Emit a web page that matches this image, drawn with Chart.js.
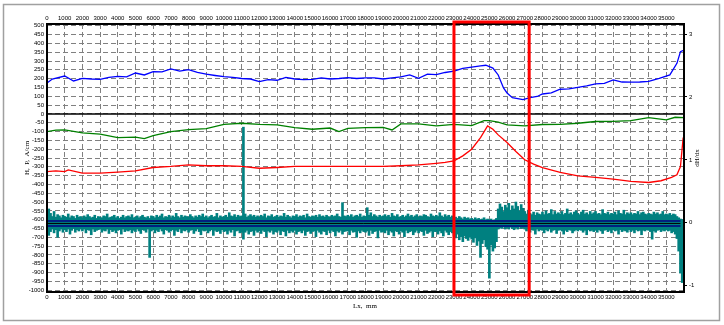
<!DOCTYPE html>
<html>
<head>
<meta charset="utf-8">
<script src="https://cdn.jsdelivr.net/npm/chart.js@4.4.0/dist/chart.umd.min.js"></script>
<style>
  html, body { margin: 0; padding: 0; background: #fff; }
  #wrap { width: 724px; height: 325px; }
</style>
</head>
<body>
<div id="wrap"><canvas id="chart" width="724" height="325"></canvas></div>
<script>
// length along the pipe, mm
const xMin = 0, xMax = 36000;

// blue curve (left axis units)
const blueX = [0,300,1000,1500,2000,2500,3000,3500,4000,4500,5000,5500,6000,6500,7000,7500,8000,8500,9000,9500,10000,10500,11000,11500,12000,12500,13000,13500,14000,14500,15000,15500,16000,16500,17000,17500,18000,18500,19000,19500,20000,20500,21000,21500,22000,22500,23000,23500,24000,24500,24800,25200,25500,25800,26000,26300,26900,27300,27700,28000,28500,29000,29500,30000,30500,31000,31500,32000,32500,33000,33500,34000,34600,35200,35600,35800,36000];
const blueY = [175,198,215,187,202,198,196,207,213,210,232,221,240,238,255,243,251,236,226,218,211,207,201,198,183,195,191,207,198,195,196,204,198,201,206,201,204,204,198,204,210,221,202,226,223,235,243,258,266,272,276,260,221,147,119,92,81,92,99,113,119,140,142,151,159,170,173,193,181,180,181,185,202,221,287,353,362];

// green curve
const greenX = [0,500,1000,2000,3000,4000,5000,5500,6000,7000,8000,9000,10000,11000,12000,13000,14000,15000,16000,16500,17000,18000,19000,19500,20000,21000,22000,23000,24000,24700,25000,25500,26000,27000,28000,29000,30000,31000,32000,33000,34000,35000,35500,36000];
const greenY = [-100,-92,-91,-108,-115,-134,-132,-140,-123,-100,-89,-83,-59,-53,-59,-62,-78,-87,-80,-100,-82,-78,-77,-91,-57,-57,-68,-59,-66,-38,-38,-47,-62,-68,-60,-59,-53,-43,-42,-38,-21,-34,-19,-21];

// red curve
const redX = [0,500,1000,1200,2000,3000,4000,5000,6000,7000,8000,9000,10000,11000,12000,13000,14000,15000,16000,17000,18000,19000,20000,21000,22000,22500,23000,23500,24000,24500,24900,25200,25500,26000,26500,27000,27500,28000,29000,30000,31000,32000,33000,34000,34700,35300,35600,35800,35950,36000];
const redY = [-327,-323,-327,-317,-336,-336,-330,-323,-304,-298,-289,-294,-294,-298,-308,-304,-298,-298,-298,-298,-298,-298,-294,-289,-280,-275,-266,-238,-200,-134,-68,-87,-119,-162,-213,-260,-285,-304,-332,-351,-360,-370,-383,-389,-379,-360,-345,-298,-138,-128];

// dH/dx samples every 100 mm (right axis): upper and lower extent
const noiseStep = 100;
const dhUpper = [
  0.12,0.22,0.15,0.10,0.18,0.09,0.13,0.11,0.08,0.12,
  0.10,0.09,0.14,0.08,0.11,0.10,0.07,0.12,0.09,0.10,
  0.08,0.11,0.09,0.13,0.10,0.08,0.09,0.12,0.07,0.10,
  0.09,0.08,0.11,0.10,0.14,0.08,0.09,0.10,0.12,0.08,
  0.10,0.07,0.09,0.12,0.08,0.10,0.11,0.09,0.13,0.08,
  0.09,0.11,0.08,0.10,0.12,0.09,0.08,0.10,0.07,0.11,
  0.10,0.08,0.12,0.09,0.11,0.14,0.08,0.10,0.09,0.12,
  0.08,0.11,0.09,0.15,0.10,0.08,0.12,0.09,0.11,0.10,
  0.09,0.13,0.10,0.08,0.11,0.09,0.12,0.10,0.14,0.09,
  0.11,0.08,0.10,0.12,0.09,0.10,0.15,0.08,0.11,0.09,
  0.10,0.12,0.09,0.16,0.11,0.10,0.13,0.09,0.12,0.10,
  0.11,1.52,0.14,0.09,0.11,0.13,0.10,0.12,0.09,0.11,
  0.09,0.12,0.10,0.14,0.08,0.11,0.10,0.13,0.09,0.10,
  0.12,0.09,0.11,0.10,0.15,0.09,0.12,0.10,0.08,0.11,
  0.10,0.13,0.09,0.11,0.10,0.12,0.08,0.14,0.10,0.09,
  0.11,0.10,0.12,0.09,0.13,0.10,0.11,0.09,0.12,0.10,
  0.09,0.12,0.10,0.11,0.14,0.10,0.09,0.32,0.11,0.10,
  0.12,0.10,0.13,0.09,0.11,0.12,0.10,0.14,0.09,0.11,
  0.10,0.24,0.12,0.16,0.10,0.13,0.11,0.09,0.12,0.10,
  0.11,0.13,0.10,0.12,0.09,0.15,0.11,0.10,0.13,0.09,
  0.10,0.12,0.09,0.11,0.14,0.10,0.12,0.09,0.11,0.13,
  0.09,0.11,0.10,0.13,0.12,0.10,0.09,0.14,0.11,0.10,
  0.12,0.10,0.16,0.11,0.09,0.13,0.10,0.12,0.09,0.11,
  0.08,0.09,0.07,0.10,0.08,0.06,0.09,0.07,0.08,0.06,
  0.07,0.05,0.08,0.06,0.07,0.05,0.06,0.08,0.05,0.06,
  0.05,0.06,0.04,0.05,0.07,0.22,0.30,0.25,0.18,0.28,
  0.24,0.31,0.20,0.27,0.22,0.33,0.26,0.19,0.29,0.23,
  0.18,0.14,0.20,0.15,0.13,0.17,0.12,0.16,0.14,0.13,
  0.17,0.13,0.19,0.14,0.15,0.21,0.13,0.18,0.14,0.16,
  0.14,0.18,0.13,0.15,0.22,0.14,0.16,0.13,0.17,0.19,
  0.15,0.13,0.17,0.20,0.14,0.16,0.13,0.18,0.14,0.16,
  0.18,0.14,0.15,0.13,0.21,0.15,0.14,0.17,0.13,0.15,
  0.14,0.17,0.13,0.19,0.15,0.14,0.20,0.13,0.16,0.14,
  0.16,0.13,0.15,0.14,0.18,0.13,0.16,0.17,0.14,0.13,
  0.15,0.14,0.13,0.17,0.14,0.16,0.13,0.14,0.18,0.13,
  0.14,0.13,0.15,0.12,0.14,0.13,0.10,0.08,0.06,0.05
];
const dhLower = [
  -0.12,-0.20,-0.14,-0.10,-0.16,-0.11,-0.23,-0.13,-0.10,-0.15,
  -0.11,-0.14,-0.10,-0.18,-0.12,-0.09,-0.15,-0.11,-0.13,-0.10,
  -0.13,-0.10,-0.16,-0.11,-0.12,-0.19,-0.10,-0.14,-0.12,-0.11,
  -0.10,-0.15,-0.12,-0.13,-0.10,-0.17,-0.11,-0.14,-0.12,-0.16,
  -0.12,-0.11,-0.18,-0.10,-0.14,-0.12,-0.13,-0.11,-0.16,-0.12,
  -0.14,-0.10,-0.13,-0.17,-0.11,-0.12,-0.15,-0.10,-0.55,-0.13,
  -0.11,-0.16,-0.12,-0.14,-0.10,-0.13,-0.18,-0.11,-0.12,-0.15,
  -0.13,-0.11,-0.20,-0.12,-0.14,-0.10,-0.16,-0.12,-0.13,-0.11,
  -0.15,-0.12,-0.11,-0.17,-0.13,-0.10,-0.14,-0.19,-0.12,-0.13,
  -0.12,-0.16,-0.13,-0.11,-0.20,-0.12,-0.14,-0.13,-0.17,-0.11,
  -0.14,-0.13,-0.18,-0.12,-0.15,-0.11,-0.21,-0.13,-0.12,-0.16,
  -0.15,-0.26,-0.15,-0.12,-0.18,-0.14,-0.13,-0.20,-0.12,-0.15,
  -0.13,-0.17,-0.12,-0.14,-0.22,-0.13,-0.15,-0.12,-0.18,-0.14,
  -0.15,-0.12,-0.19,-0.13,-0.14,-0.21,-0.12,-0.16,-0.13,-0.15,
  -0.12,-0.18,-0.14,-0.13,-0.16,-0.12,-0.20,-0.14,-0.13,-0.17,
  -0.14,-0.13,-0.22,-0.12,-0.15,-0.18,-0.13,-0.14,-0.19,-0.12,
  -0.16,-0.12,-0.14,-0.21,-0.13,-0.15,-0.12,-0.18,-0.14,-0.13,
  -0.13,-0.19,-0.12,-0.15,-0.14,-0.23,-0.13,-0.16,-0.12,-0.14,
  -0.15,-0.13,-0.20,-0.12,-0.17,-0.14,-0.13,-0.24,-0.12,-0.15,
  -0.14,-0.16,-0.12,-0.19,-0.13,-0.15,-0.21,-0.13,-0.14,-0.18,
  -0.13,-0.15,-0.22,-0.12,-0.16,-0.14,-0.13,-0.19,-0.15,-0.12,
  -0.16,-0.13,-0.14,-0.20,-0.12,-0.17,-0.15,-0.13,-0.22,-0.14,
  -0.14,-0.18,-0.13,-0.16,-0.21,-0.12,-0.15,-0.19,-0.14,-0.16,
  -0.20,-0.24,-0.18,-0.27,-0.22,-0.30,-0.21,-0.25,-0.28,-0.23,
  -0.26,-0.31,-0.24,-0.36,-0.29,-0.55,-0.33,-0.27,-0.38,-0.42,
  -0.88,-0.35,-0.45,-0.40,-0.30,-0.10,-0.08,-0.09,-0.07,-0.10,
  -0.08,-0.10,-0.07,-0.09,-0.11,-0.08,-0.10,-0.07,-0.09,-0.08,
  -0.10,-0.13,-0.09,-0.15,-0.11,-0.12,-0.18,-0.10,-0.13,-0.11,
  -0.12,-0.16,-0.11,-0.13,-0.10,-0.15,-0.12,-0.11,-0.17,-0.12,
  -0.11,-0.13,-0.18,-0.12,-0.14,-0.11,-0.12,-0.16,-0.13,-0.11,
  -0.13,-0.11,-0.12,-0.15,-0.12,-0.19,-0.11,-0.13,-0.12,-0.14,
  -0.12,-0.15,-0.11,-0.13,-0.17,-0.12,-0.11,-0.14,-0.12,-0.16,
  -0.11,-0.13,-0.12,-0.18,-0.11,-0.14,-0.12,-0.13,-0.15,-0.11,
  -0.14,-0.12,-0.16,-0.11,-0.13,-0.12,-0.19,-0.12,-0.13,-0.11,
  -0.12,-0.14,-0.26,-0.13,-0.15,-0.12,-0.11,-0.14,-0.12,-0.13,
  -0.11,-0.13,-0.12,-0.16,-0.14,-0.18,-0.25,-0.45,-0.80,-0.95
];

// threshold lines on the dH/dx axis
const thresholdX = [0, 35800];
const thresholdHigh = [0.03, 0.03];
const thresholdMid = [-0.01, -0.01];
const thresholdLow = [-0.05, -0.05];

// marked zone
const zoneFrom = 23000, zoneTo = 27250;

const pts = (xs, ys) => xs.map((x, i) => ({ x: x, y: ys[i] }));
const noiseBars = dhUpper.map((hi, i) => ({ x: i * noiseStep, y: [dhLower[i], hi] }));

const tickFont = { family: 'Liberation Sans', size: 6 };
const gridStyle = { color: '#808080', lineWidth: 1, drawTicks: false };

const frame = {
  id: 'frame',
  beforeDraw(chart) {
    const c = chart.ctx;
    c.save();
    c.fillStyle = '#fff';
    c.fillRect(0, 0, chart.width, chart.height);
    c.strokeStyle = '#a0a0a0';
    c.lineWidth = 1.5;
    c.strokeRect(3.5, 4.5, 716, 316);
    c.restore();
  },
  beforeDatasetsDraw(chart) {
    const c = chart.ctx, a = chart.chartArea;
    const y0 = chart.scales.y.getPixelForValue(0);
    c.save();
    c.strokeStyle = '#000';
    c.lineWidth = 1.5;
    c.beginPath();
    c.moveTo(a.left, y0);
    c.lineTo(a.right, y0);
    c.stroke();
    c.restore();
  },
  afterDatasetsDraw(chart) {
    const c = chart.ctx, a = chart.chartArea;
    const xs = chart.scales.x;
    c.save();
    c.strokeStyle = '#000';
    c.lineWidth = 2;
    c.strokeRect(a.left, a.top, a.right - a.left, a.bottom - a.top);

    // red box
    c.strokeStyle = '#ff0000';
    c.lineWidth = 3;
    const l = xs.getPixelForValue(zoneFrom), r = xs.getPixelForValue(zoneTo);
    c.strokeRect(l, a.top - 2, r - l, a.bottom - a.top + 5);

    // axis titles
    c.fillStyle = '#000';
    c.font = '7px "Liberation Serif"';
    c.textAlign = 'center';
    c.textBaseline = 'middle';
    c.fillText('Lx,  mm', 365, 306);
    c.translate(27, 158);
    c.rotate(-Math.PI / 2);
    c.fillText('H,  P,  A/cm', 0, 0);
    c.rotate(Math.PI / 2);
    c.translate(697 - 27, 0);
    c.rotate(-Math.PI / 2);
    c.fillText('dH/dx', 0, 0);
    c.restore();
  }
};

new Chart(document.getElementById('chart').getContext('2d'), {
  type: 'line',
  data: {
    datasets: [
      { label: 'blue', data: pts(blueX, blueY), borderColor: '#0000ff', borderWidth: 1.3, yAxisID: 'y', order: 3 },
      { label: 'green', data: pts(greenX, greenY), borderColor: '#008000', borderWidth: 1.3, yAxisID: 'y', order: 3 },
      { label: 'red', data: pts(redX, redY), borderColor: '#ff0000', borderWidth: 1.3, yAxisID: 'y', order: 3 },
      { type: 'bar', label: 'dH/dx', data: noiseBars, backgroundColor: '#008080', borderWidth: 0,
        barThickness: 2, grouped: false, yAxisID: 'y2', order: 10 },
      { label: 'hi', data: pts(thresholdX, thresholdHigh), borderColor: '#000080', borderWidth: 1.5, yAxisID: 'y2', order: 1 },
      { label: 'mid', data: pts(thresholdX, thresholdMid), borderColor: '#000000', borderWidth: 1, yAxisID: 'y2', order: 1 },
      { label: 'lo', data: pts(thresholdX, thresholdLow), borderColor: '#000080', borderWidth: 1.5, yAxisID: 'y2', order: 1 }
    ]
  },
  options: {
    responsive: false,
    animation: false,
    layout: { padding: 0 },
    elements: { point: { radius: 0 }, line: { tension: 0, fill: false } },
    plugins: { legend: { display: false }, tooltip: { enabled: false } },
    scales: {
      x: {
        type: 'linear', position: 'bottom', min: xMin, max: xMax, offset: false,
        grid: Object.assign({ offset: false }, gridStyle),
        border: { display: false, dash: [5, 3] },
        ticks: { stepSize: 1000, autoSkip: false, maxRotation: 0, padding: 2, font: tickFont, color: '#000',
          callback: v => (v >= 36000 ? '' : String(v)) },
        afterFit: s => { s.height = 33; }
      },
      x2: {
        type: 'linear', position: 'top', min: xMin, max: xMax, offset: false,
        grid: { display: false, drawTicks: false },
        border: { display: false },
        ticks: { stepSize: 1000, autoSkip: false, maxRotation: 0, padding: 2, font: tickFont, color: '#000',
          callback: v => (v >= 36000 ? '' : String(v)) },
        afterFit: s => { s.height = 24; }
      },
      y: {
        type: 'linear', position: 'left', min: -1010, max: 510,
        grid: gridStyle,
        border: { display: false, dash: [5, 3] },
        ticks: { stepSize: 50, includeBounds: false, autoSkip: false, padding: 3, font: tickFont, color: '#000',
          callback: v => String(v) },
        afterFit: s => { s.width = 47; }
      },
      y2: {
        type: 'linear', position: 'right', min: -1.1, max: 3.16,
        grid: { drawOnChartArea: false, drawTicks: true, tickLength: 3, color: '#000' },
        border: { display: false },
        ticks: { stepSize: 1, includeBounds: false, autoSkip: false, padding: 2, font: tickFont, color: '#000',
          callback: v => String(v) },
        afterFit: s => { s.width = 40; }
      }
    }
  },
  plugins: [frame]
});
</script>
</body>
</html>
